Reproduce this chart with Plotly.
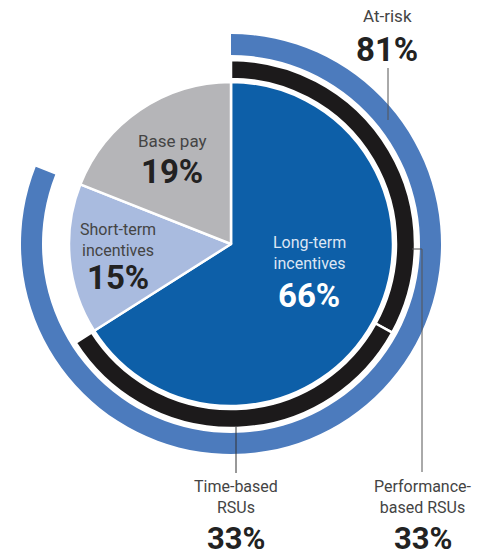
import plotly.graph_objects as go

W, H = 489, 559

# ---- data ----
pay_labels = ["Long-term incentives", "Short-term incentives", "Base pay"]
pay_values = [66, 15, 19]
rsu_labels = ["Performance-based RSUs", "Time-based RSUs"]
rsu_values = [33, 33]
risk_labels = ["At-risk"]
risk_values = [81]

# ---- styling ----
CX, CY = 231, 244
FONT = "Roboto"
C_DARK = "#0d5fa8"
C_LIGHT = "#a9bbdf"
C_GRAY = "#b5b5b8"
C_BLACK = "#1c1a1b"
C_RING = "#4c7bbd"
C_LABEL = "#444444"
C_NUM = "#222222"


def dom(r):
    return dict(x=[(CX - r) / W, (CX + r) / W], y=[1 - (CY + r) / H, 1 - (CY - r) / H])


def px(x):
    return x / W


def py(y):
    return 1 - y / H


fig = go.Figure()

# main pie
fig.add_trace(go.Pie(
    labels=pay_labels, values=pay_values, sort=False, direction="clockwise",
    rotation=0, domain=dom(162), hole=0,
    marker=dict(colors=[C_DARK, C_LIGHT, C_GRAY], line=dict(color="white", width=2.5)),
    textinfo="none", hoverinfo="skip", showlegend=False,
))

# black RSU ring
rsu_rest = 100 - sum(rsu_values)
fig.add_trace(go.Pie(
    labels=rsu_labels + ["rest"], values=rsu_values + [rsu_rest], sort=False,
    direction="clockwise", rotation=0, domain=dom(184), hole=165 / 184,
    marker=dict(colors=[C_BLACK, C_BLACK, "rgba(0,0,0,0)"],
                line=dict(color="white", width=[2.5, 2.5, 0])),
    textinfo="none", hoverinfo="skip", showlegend=False,
))

# outer at-risk ring
risk_rest = 100 - sum(risk_values)
fig.add_trace(go.Pie(
    labels=risk_labels + ["rest"], values=risk_values + [risk_rest], sort=False,
    direction="clockwise", rotation=0, domain=dom(210), hole=189 / 210,
    marker=dict(colors=[C_RING, "rgba(0,0,0,0)"], line=dict(width=0)),
    textinfo="none", hoverinfo="skip", showlegend=False,
))

ann = []


def text(x, y, s, size, color, bold=False, yanchor="middle"):
    ann.append(dict(
        x=px(x), y=py(y), xref="paper", yref="paper", text=(f"<b>{s}</b>" if bold else s),
        showarrow=False, xanchor="center", yanchor=yanchor, align="center",
        font=dict(family=FONT, size=size, color=color),
    ))


LBL = 16
NUM = 33

# in-pie labels
text(172, 141, pay_labels[2], LBL + 1, C_LABEL)
text(172, 171, f"{pay_values[2]}%", NUM, C_NUM, True)
text(118, 240, "Short-term<br>incentives", LBL, C_LABEL)
text(118, 277, f"{pay_values[1]}%", NUM, C_NUM, True)
text(309, 253, "Long-term<br>incentives", LBL, "#dde6f4")
text(309, 295, f"{pay_values[0]}%", NUM, "white", True)

# outside labels
text(387, 16, risk_labels[0], LBL + 1, C_LABEL)
text(387, 49, f"{risk_values[0]}%", NUM, C_NUM, True)
text(236, 497, "Time-based<br>RSUs", LBL, C_LABEL)
text(236, 559, f"{rsu_values[1]}%", 31, C_NUM, True, yanchor="bottom")
text(423, 497, "Performance-<br>based RSUs", LBL, C_LABEL)
text(423, 559, f"{rsu_values[0]}%", 31, C_NUM, True, yanchor="bottom")

# leader lines
LC = "#555555"
shapes = [
    dict(type="line", xref="paper", yref="paper", x0=px(388), x1=px(388), y0=py(68), y1=py(120),
         line=dict(color=LC, width=1)),
    dict(type="path", xref="paper", yref="paper",
         path=f"M {px(412)} {py(249)} L {px(422)} {py(249)} L {px(422)} {py(472)}",
         line=dict(color=LC, width=1)),
    dict(type="line", xref="paper", yref="paper", x0=px(236), x1=px(236), y0=py(427), y1=py(473),
         line=dict(color="#333333", width=1)),
]

fig.update_layout(
    width=W, height=H, margin=dict(l=0, r=0, t=0, b=0),
    paper_bgcolor="white", plot_bgcolor="white",
    annotations=ann, shapes=shapes, showlegend=False,
)

fig.write_html(
    "out.html",
    config={"displayModeBar": False},
    post_script="document.body.style.margin='0';document.body.style.padding='0';",
)
